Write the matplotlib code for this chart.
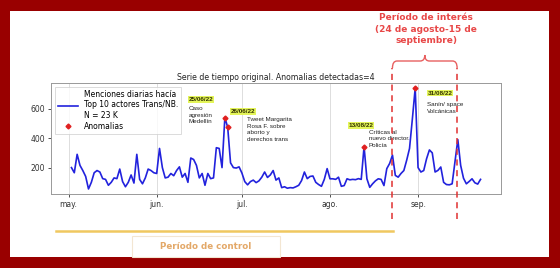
import numpy as np
import pandas as pd
import matplotlib
matplotlib.use('Agg')
import matplotlib.pyplot as plt
from matplotlib.patches import Rectangle, PathPatch
from matplotlib.path import Path
from matplotlib.lines import Line2D
import matplotlib.transforms as mtransforms


# serie diaria de menciones (2 mayo - 23 sept 2022)
start_date = '2022-05-02'
mentions = [
    200, 165, 290, 215, 180, 140, 55, 100, 165, 180,
    170, 125, 120, 80, 100, 130, 125, 190, 105, 70,
    100, 150, 95, 290, 120, 90, 130, 190, 180, 165,
    160, 330, 200, 130, 135, 160, 145, 180, 205, 135,
    160, 100, 265, 255, 215, 130, 160, 80, 160, 125,
    130, 335, 330, 200, 540, 473, 232, 200, 197, 205,
    163, 105, 83, 105, 115, 98, 110, 135, 170, 133,
    150, 180, 115, 130, 64, 70, 60, 64, 62, 70,
    80, 112, 170, 125, 140, 143, 100, 85, 73, 120,
    193, 124, 124, 120, 135, 73, 78, 124, 117, 120,
    118, 125, 120, 342, 124, 66, 90, 110, 124, 120,
    78, 193, 228, 285, 147, 135, 160, 180, 250, 330,
    530, 740, 200, 170, 180, 260, 320, 300, 170, 181,
    204, 100, 85, 83, 90, 240, 390, 215, 128, 90,
    106, 124, 97, 88, 120,
]
dates = pd.date_range(start_date, periods=len(mentions), freq='D')
serie = pd.Series(mentions, index=dates)

anomaly_dates = ['2022-06-25', '2022-06-26', '2022-08-13', '2022-08-31']
anomaly_labels = ['25/06/22', '26/06/22', '13/08/22', '31/08/22']
anomaly_notes = ['Caso\nagresión\nMedellín',
                 'Tweet Margarita\nRosa F. sobre\naborto y\nderechos trans',
                 'Críticas al\nnuevo director.\nPolicía',
                 'Sanín/ space\nVolcánicas']

month_ticks = ['2022-05-01', '2022-06-01', '2022-07-01', '2022-08-01', '2022-09-01']
month_labels = ['may.', 'jun.', 'jul.', 'ago.', 'sep.']

interest_start = pd.Timestamp('2022-08-23')
interest_end = pd.Timestamp('2022-09-14 18:00')

W, H = 560, 268
fig = plt.figure(figsize=(5.6, 2.68), dpi=100)
fig.patch.set_facecolor('#990000')
fig.patches.append(Rectangle((10 / W, 11 / H), 539 / W, 246 / H,
                             transform=fig.transFigure, fc='white', ec='none', zorder=-5))

ax = fig.add_axes([51 / W, 74 / H, 450 / W, 111 / H])
ax.set_facecolor('white')
ax.plot(serie.index, serie.values, color='#2222dd', lw=1.2,
        label='Menciones diarias hacía\nTop 10 actores Trans/NB.\nN = 23 K')
an_idx = pd.to_datetime(anomaly_dates)
ax.plot(an_idx, serie.loc[an_idx].values, 'D', color='#e02020', ms=2.5, ls='none',
        label='Anomalias', zorder=3)

ax.set_xticks(pd.to_datetime(month_ticks))
ax.set_xticklabels(month_labels)
ax.set_yticks([200, 400, 600])
ax.tick_params(labelsize=5.5, length=2, width=0.6, colors='#333333', pad=2)
ax.grid(axis='x', color='#dddddd', lw=0.7)
for s in ax.spines.values():
    s.set_color('#999999')
    s.set_linewidth(0.7)
ax.set_title('Serie de tiempo original. Anomalias detectadas=4', fontsize=5.6,
             color='#222222', pad=2.5)
leg = ax.legend(loc='upper left', fontsize=5.5, frameon=True, borderpad=0.4,
                handlelength=2.6, labelspacing=0.25, fancybox=False)
leg.get_frame().set_edgecolor('#cccccc')
leg.get_frame().set_linewidth(0.6)

# etiquetas de anomalias
hl = dict(boxstyle='square,pad=0.12', fc='#e4f55a', ec='none')
lab_pos = [('2022-06-12 08:00', 664), ('2022-06-27', 581), ('2022-08-07 14:00', 484), ('2022-09-04 10:00', 705)]
note_pos = [('2022-06-12 08:00', 620), ('2022-07-02 16:00', 545), ('2022-08-14 14:00', 458), ('2022-09-04', 642)]
for lab, note, lp, npos in zip(anomaly_labels, anomaly_notes, lab_pos, note_pos):
    ax.text(pd.Timestamp(lp[0]), lp[1], lab, fontsize=4.6, fontweight='bold',
            family='Liberation Sans', color='#333300', va='center', bbox=hl)
    ax.text(pd.Timestamp(npos[0]), npos[1], note, fontsize=4.5, family='Liberation Sans',
            color='#222222', va='top', linespacing=1.45)

# periodo de interes
for d in [interest_start, interest_end]:
    ax.axvline(d, ymin=-0.225, ymax=1.135, color='#e03030', ls=(0, (4, 3)), lw=1.1,
               clip_on=False, zorder=4)

trans = mtransforms.blended_transform_factory(ax.transData, fig.transFigure)
x0 = matplotlib.dates.date2num(interest_start)
x1 = matplotlib.dates.date2num(interest_end)
xc = (x0 + x1) / 2
yl, ym, yt = 1 - 68 / H, 1 - 61 / H, 1 - 55 / H
dx = 1.6
verts = [(x0, yl), (x0, ym), (x0 + dx, ym), (xc - dx, ym), (xc, ym), (xc, yt),
         (xc, ym), (xc + dx, ym), (x1 - dx, ym), (x1, ym), (x1, yl)]
codes = [Path.MOVETO, Path.CURVE3, Path.CURVE3, Path.LINETO, Path.CURVE3, Path.CURVE3,
         Path.CURVE3, Path.CURVE3, Path.LINETO, Path.CURVE3, Path.CURVE3]
fig.patches.append(PathPatch(Path(verts, codes), transform=trans, fc='none',
                             ec='#e86060', lw=1.0))
fig.text(426 / W, 1 - 29 / H, 'Período de interés\n(24 de agosto-15 de\nseptiembre)',
         ha='center', va='center', fontsize=6.5, fontweight='bold', color='#e84848',
         linespacing=1.35)

# periodo de control
fig.lines.append(Line2D([56 / W, 393 / W], [1 - 230.5 / H] * 2, transform=fig.transFigure,
                        color='#f0c860', lw=1.8))
fig.patches.append(Rectangle((132 / W, 1 - 257 / H), 148 / W, 21 / H, transform=fig.transFigure,
                             fc='white', ec='#f3e6d2', lw=0.8))
fig.text(206 / W, 1 - 246.5 / H, 'Período de control', ha='center', va='center',
         fontsize=6.3, fontweight='bold', color='#e3a868')

fig.savefig('out.png', dpi=100, facecolor=fig.get_facecolor())
